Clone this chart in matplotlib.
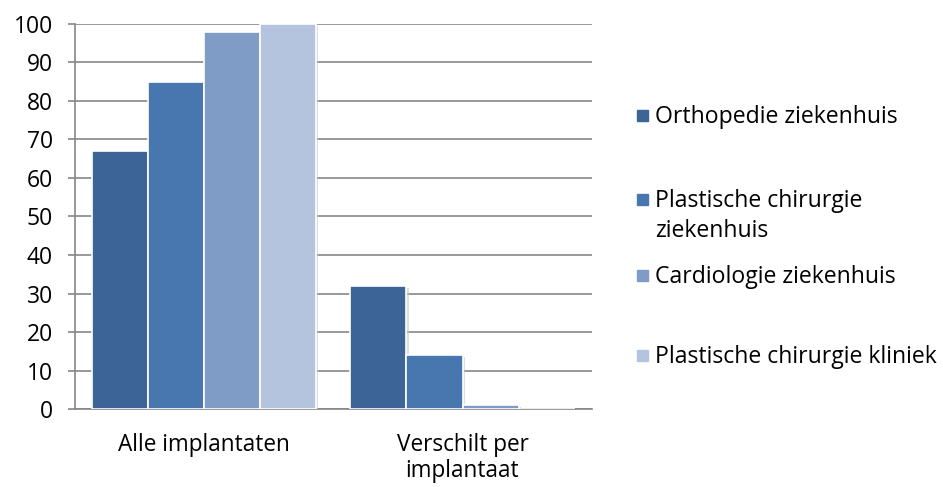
import numpy as np
import matplotlib.pyplot as plt
import matplotlib.patheffects as pe

# data
categories = ["Alle implantaten", "Verschilt per\nimplantaat"]
series = ["Orthopedie ziekenhuis", "Plastische chirurgie\nziekenhuis",
          "Cardiologie ziekenhuis", "Plastische chirurgie kliniek"]
values = [
    [67, 32],
    [85, 14],
    [98, 1],
    [100, 0],
]
colors = ["#3C6496", "#4877B0", "#7F9CC7", "#B4C3DE"]
yticks = [0, 10, 20, 30, 40, 50, 60, 70, 80, 90, 100]

plt.rcParams['font.family'] = ['Open Sans', 'DejaVu Sans']

fig = plt.figure(figsize=(9.43, 4.87), dpi=100)
ax = fig.add_axes([0.0795, 0.160, 0.548, 0.791])

x = np.arange(len(categories))
w = 0.217
shadow = [pe.SimplePatchShadow(offset=(1.5, -1.5), shadow_rgbFace='#c8c8c8', alpha=0.6), pe.Normal()]
for i, (vals, c) in enumerate(zip(values, colors)):
    bars = ax.bar(x + (i - 1.5) * w, vals, width=w, color=c,
                  edgecolor='white', linewidth=1.2, zorder=3)
    for b in bars:
        if b.get_height() > 0:
            b.set_path_effects(shadow)

ax.set_xlim(-0.5, 1.5)
ax.set_ylim(0, 100)
ax.set_yticks(yticks)
ax.set_xticks(x)
ax.set_xticklabels(categories, fontsize=16.3, linespacing=1.12)
ax.tick_params(axis='x', length=0, pad=17)
ax.tick_params(axis='y', length=5, color='#868686', width=1.2, labelsize=16.5, pad=11)
ax.grid(axis='y', color='#868686', linewidth=1.2, zorder=0)
ax.set_axisbelow(True)
for s in ['top', 'right']:
    ax.spines[s].set_visible(False)
for s in ['left', 'bottom']:
    ax.spines[s].set_color('#868686')
    ax.spines[s].set_linewidth(1.2)

# legend drawn by hand to match spacing
leg_y = [116, 200, 276, 356]
for lab, c, yy in zip(series, colors, leg_y):
    fy = 1 - yy / 487
    fig.patches.append(plt.Rectangle((637 / 943, fy - 5 / 487), 11 / 943, 11 / 487,
                                     transform=fig.transFigure, color=c))
    fig.text(655 / 943, fy + 11 / 487, lab, fontsize=16.6, va='top',
             ha='left', linespacing=1.33)

fig.savefig("out.png", dpi=100)
